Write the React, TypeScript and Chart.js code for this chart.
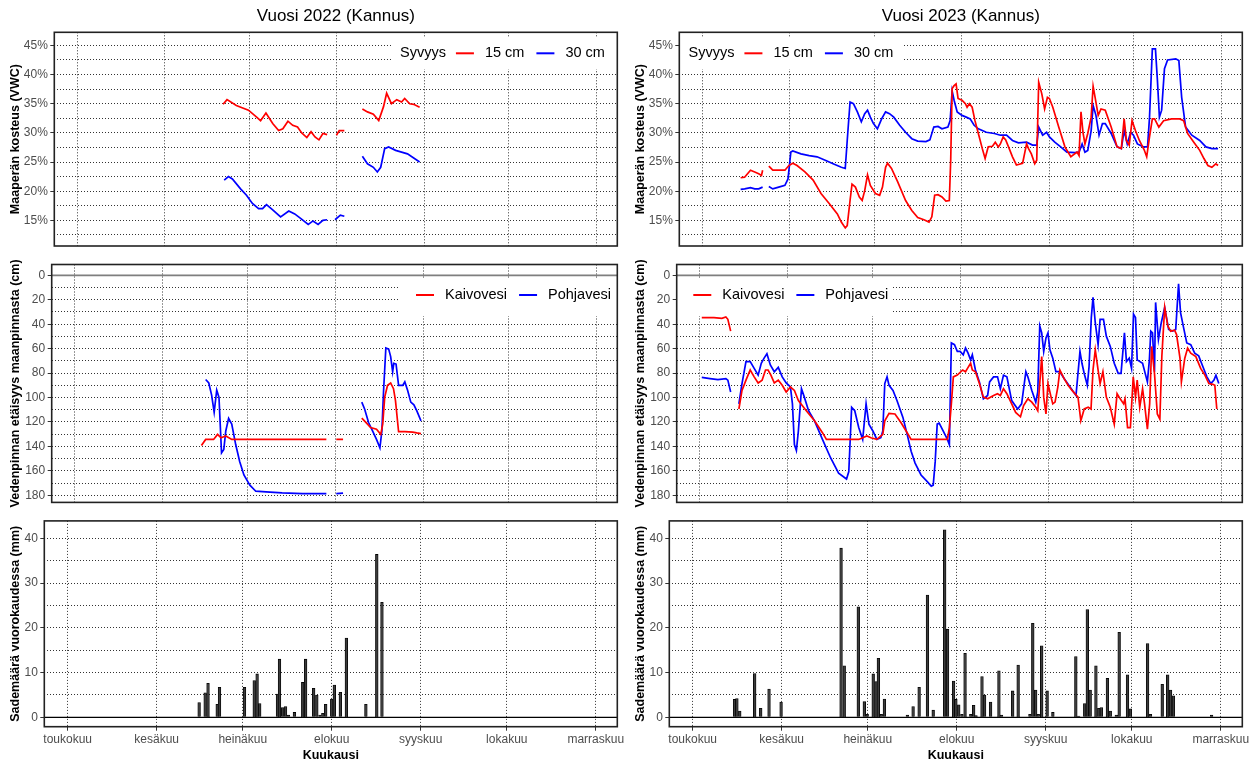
import React, { useEffect, useRef } from 'react';
import { Chart, registerables } from 'chart.js';

Chart.register(...registerables);
const FONT = "'Liberation Sans', Arial, Helvetica, sans-serif";
Chart.defaults.font.family = FONT;

// ---------- axis / tick data ----------
const monthDays = [0, 31, 61, 92, 123, 153, 184]; // days since 1 May
const monthLabels = ['toukokuu', 'kesäkuu', 'heinäkuu', 'elokuu', 'syyskuu', 'lokakuu', 'marraskuu'];
const soilMajorTicks = [15, 20, 25, 30, 35, 40, 45];
const soilMinorTicks = [12.5, 17.5, 22.5, 27.5, 32.5, 37.5, 42.5];
const depthMajorTicks = [0, 20, 40, 60, 80, 100, 120, 140, 160, 180];
const depthMinorTicks = [10, 30, 50, 70, 90, 110, 130, 150, 170];
const rainMajorTicks = [0, 10, 20, 30, 40];
const rainMinorTicks = [5, 15, 25, 35];

type Pair = [number, number | null];

// ---------- soil moisture (%), [day since 1 May, value] ----------
const soil15_2022: Pair[] = [[51.7,34.9],[53.1,35.7],[56.4,34.7],[60.7,33.9],[63.6,32.7],[65.0,32.1],[66.9,33.4],[69.3,31.6],[71.4,30.4],[72.9,30.7],[74.7,32.0],[76.4,31.3],[78.1,31.0],[79.6,30.0],[81.4,29.2],[82.9,30.2],[84.3,29.3],[85.7,28.8],[87.1,29.9],[88.6,29.7],[90.2,null],[91.9,29.6],[92.9,30.4],[94.7,30.4],[98.0,null],[101.1,34.1],[102.9,33.6],[105.0,33.2],[106.9,32.1],[108.6,34.5],[109.7,36.8],[111.4,35.0],[113.3,35.7],[115.0,35.3],[116.1,35.9],[117.9,35.0],[119.3,34.9],[121.4,34.4]];
const soil30_2022: Pair[] = [[52.1,21.9],[53.6,22.5],[55.0,22.1],[57.9,20.4],[60.0,19.3],[62.1,17.9],[64.3,17.0],[65.7,17.0],[67.1,17.7],[69.3,16.8],[72.1,15.6],[75.0,16.6],[77.1,16.1],[79.3,15.3],[81.9,14.3],[83.6,14.9],[85.4,14.3],[87.1,15.0],[88.6,15.1],[90.0,null],[91.4,15.1],[93.3,15.9],[94.7,15.7],[98.0,null],[101.1,26.0],[102.9,24.7],[105.0,24.1],[106.4,23.3],[107.6,24.1],[109.0,27.3],[110.4,27.6],[112.9,27.0],[115.0,26.7],[117.1,26.4],[119.3,25.7],[121.4,25.0]];
const soil15_2023: Pair[] = [[13.6,22.3],[15.0,22.4],[17.1,23.6],[18.6,23.3],[20.0,23.0],[21.0,22.7],[21.4,23.6],[22.5,null],[23.6,24.3],[25.0,23.6],[27.1,23.6],[29.3,23.6],[30.7,24.4],[32.1,24.8],[33.6,24.4],[36.4,23.3],[39.3,21.9],[42.1,19.6],[45.0,17.9],[47.9,16.1],[49.3,14.7],[50.7,13.7],[51.4,14.1],[52.4,18.4],[53.1,21.2],[54.3,20.7],[55.7,19.0],[56.7,18.4],[57.6,20.1],[58.6,22.8],[59.6,21.0],[61.4,19.6],[62.9,19.3],[63.9,20.7],[65.0,24.1],[65.7,24.8],[67.1,23.9],[69.3,21.6],[72.1,18.4],[74.3,16.7],[76.4,15.5],[78.6,15.1],[80.4,14.7],[81.4,15.6],[82.4,19.3],[83.6,19.4],[85.0,19.0],[86.4,18.3],[87.6,18.4],[88.1,25.3],[88.6,37.6],[89.3,38.1],[90.0,38.4],[90.7,35.9],[92.1,35.6],[93.3,35.0],[93.9,34.4],[94.7,35.0],[95.7,34.4],[96.7,32.1],[97.9,29.9],[99.3,27.3],[100.3,25.6],[101.4,27.6],[102.9,27.7],[103.9,28.4],[105.0,27.6],[105.7,28.1],[106.7,29.3],[107.6,28.8],[108.6,27.6],[110.0,25.9],[111.4,24.5],[113.6,24.8],[114.4,26.7],[115.0,28.1],[115.7,27.3],[116.7,26.4],[117.9,24.7],[118.6,25.3],[119.3,38.7],[120.4,36.7],[121.4,34.1],[122.4,36.1],[123.1,35.9],[124.3,34.4],[126.4,31.0],[128.6,27.6],[130.7,25.9],[132.9,26.7],[133.6,26.1],[134.3,33.6],[135.0,30.1],[135.7,28.1],[136.7,29.9],[137.9,32.7],[138.6,38.0],[139.3,36.1],[140.4,33.0],[141.4,34.1],[142.9,33.9],[145.0,31.0],[147.1,27.6],[148.6,27.3],[149.6,32.4],[150.4,28.7],[151.4,27.9],[152.4,32.1],[153.6,30.4],[155.0,28.7],[156.7,27.1],[157.6,25.9],[158.6,29.3],[159.6,32.4],[160.4,32.4],[161.9,31.0],[163.6,32.1],[166.4,32.4],[169.3,32.4],[170.7,32.1],[172.1,29.9],[174.3,28.4],[176.4,27.0],[177.9,25.6],[179.3,24.4],[180.7,24.1],[182.1,24.7],[182.9,24.4]];
const soil30_2023: Pair[] = [[13.6,20.3],[15.0,20.4],[17.1,20.6],[18.6,20.4],[20.0,20.4],[21.4,20.7],[22.5,null],[23.6,20.8],[25.0,20.4],[27.1,20.7],[29.3,21.0],[30.4,22.1],[31.4,26.7],[32.1,26.9],[35.0,26.4],[37.9,26.1],[40.7,25.9],[43.6,25.3],[46.4,24.7],[49.3,24.1],[50.7,23.9],[51.4,28.7],[52.4,35.3],[53.6,35.0],[55.0,33.6],[56.4,31.9],[57.6,33.3],[58.6,33.9],[59.6,32.7],[60.7,31.6],[62.1,30.7],[63.6,32.4],[65.0,33.6],[66.4,33.3],[67.9,32.7],[70.0,31.3],[72.1,30.1],[74.3,29.0],[76.4,28.6],[79.3,28.5],[80.7,28.8],[82.1,31.0],[83.6,31.1],[85.0,30.7],[87.1,31.0],[87.9,32.1],[88.6,37.2],[89.3,35.6],[90.4,33.6],[92.1,33.0],[93.6,32.7],[95.0,32.4],[96.4,31.3],[97.9,30.7],[100.7,30.1],[103.6,29.9],[105.7,29.6],[107.9,29.6],[110.0,28.7],[112.1,28.3],[115.0,28.4],[117.1,27.9],[118.6,27.9],[119.3,31.0],[120.7,29.6],[122.1,30.1],[123.1,29.3],[125.0,28.4],[127.1,27.6],[129.3,26.7],[132.1,26.6],[133.6,26.7],[134.7,28.1],[135.7,26.7],[136.7,27.0],[137.9,30.4],[138.6,34.7],[139.6,33.0],[140.7,29.6],[141.9,31.6],[142.9,31.6],[145.0,29.9],[147.1,27.6],[148.6,27.3],[149.6,30.4],[150.7,28.1],[151.9,30.1],[152.9,29.6],[154.3,28.1],[156.4,27.6],[157.9,27.6],[158.6,32.7],[159.6,44.4],[160.7,44.4],[161.4,39.0],[162.1,32.7],[162.9,33.9],[163.9,41.0],[165.0,42.5],[167.9,42.7],[169.0,42.4],[170.0,36.1],[171.4,31.0],[173.6,29.6],[176.4,28.7],[178.6,27.6],[180.7,27.3],[182.9,27.3]];

// ---------- water level depth (cm) ----------
const well_2022: Pair[] = [[44.7,139.3],[46.2,134.3],[49.0,134.3],[50.4,130.2],[51.6,133.0],[53.3,131.5],[55.4,134.3],[70.0,134.3],[88.8,134.3],[90.5,null],[92.3,134.3],[94.7,134.3],[98.0,null],[101.3,116.9],[103.0,121.0],[104.4,124.6],[106.5,126.0],[108.0,130.2],[108.7,121.8],[109.4,99.7],[110.4,90.0],[111.5,88.1],[112.5,92.8],[113.2,102.5],[114.3,128.0],[116.5,128.0],[119.3,128.3],[120.7,129.0],[122.2,129.6]];
const ground_2022: Pair[] = [[46.2,85.3],[47.3,88.1],[48.3,98.0],[49.2,112.0],[50.1,94.0],[50.9,100.0],[51.8,145.4],[52.6,142.6],[53.3,127.4],[54.3,117.1],[55.4,121.8],[56.8,138.5],[58.2,152.3],[59.7,163.4],[61.8,171.7],[63.9,176.7],[67.5,177.2],[73.2,178.0],[80.3,178.6],[88.8,178.6],[90.5,null],[92.3,178.6],[94.7,178.2],[98.0,null],[101.3,103.8],[102.3,109.4],[103.7,120.5],[105.1,127.4],[106.5,134.3],[107.7,141.2],[108.4,127.4],[109.0,94.2],[109.8,59.5],[110.8,60.4],[111.5,66.5],[112.2,78.9],[112.6,72.0],[113.4,72.6],[114.3,90.0],[115.8,90.0],[116.5,87.2],[117.5,94.2],[118.6,103.8],[119.7,106.0],[120.7,110.8],[122.2,119.1]];
const well_2023: Pair[] = [[0.7,34.6],[5.0,34.6],[7.8,35.2],[9.2,34.1],[9.9,36.0],[10.9,45.7],[12.3,null],[13.8,109.4],[14.9,94.2],[16.3,85.8],[17.8,77.5],[19.2,83.1],[20.6,88.1],[22.0,85.8],[23.2,77.5],[24.1,77.5],[25.1,81.7],[26.3,88.1],[27.7,85.8],[29.1,90.0],[30.5,95.5],[32.0,91.4],[33.4,94.2],[34.8,102.5],[37.6,110.8],[40.5,119.1],[43.3,128.8],[44.7,134.3],[49.0,134.3],[53.3,134.3],[56.1,134.3],[59.0,131.5],[60.4,132.9],[62.5,134.3],[64.6,130.2],[65.3,119.1],[66.8,113.0],[68.9,113.5],[71.0,120.5],[73.2,128.8],[74.6,134.3],[78.8,134.3],[83.1,134.3],[87.4,134.3],[88.1,124.6],[88.8,105.2],[89.5,83.1],[90.9,81.7],[92.8,77.5],[93.8,78.9],[94.5,76.2],[95.6,72.0],[96.2,77.5],[97.3,78.9],[98.7,88.6],[100.1,99.7],[101.6,101.1],[103.7,98.3],[105.1,96.9],[106.1,98.3],[107.2,92.8],[108.4,96.9],[110.1,105.2],[111.5,112.2],[113.2,115.8],[114.3,106.6],[115.8,101.1],[117.2,103.8],[118.6,108.0],[119.3,110.8],[120.0,88.6],[120.7,66.5],[121.4,99.7],[122.2,113.5],[122.9,88.6],[124.0,99.7],[124.6,105.2],[125.4,103.8],[126.4,91.4],[127.1,77.5],[128.6,84.5],[130.0,90.0],[131.4,94.2],[133.5,99.7],[134.5,119.1],[135.7,109.4],[137.1,108.0],[138.1,109.4],[138.8,77.5],[139.6,60.9],[140.6,77.5],[141.3,88.6],[142.3,78.9],[143.5,99.7],[144.9,108.0],[146.3,121.8],[147.3,96.9],[148.4,101.1],[149.6,105.2],[150.1,101.1],[151.0,124.6],[152.0,124.6],[153.0,83.1],[153.8,99.7],[154.4,85.8],[155.3,108.0],[156.3,92.8],[157.0,105.2],[158.0,126.0],[158.8,105.2],[159.5,58.2],[160.5,80.3],[161.5,113.5],[162.4,117.7],[163.1,66.5],[164.1,26.3],[165.2,41.5],[166.2,45.7],[167.6,44.9],[168.3,48.5],[169.5,67.8],[170.0,87.2],[171.2,67.8],[172.2,59.5],[173.3,63.7],[175.1,66.5],[176.8,76.2],[178.3,81.7],[179.7,88.6],[181.1,89.2],[181.8,90.0],[182.5,109.4]];
const ground_2023: Pair[] = [[0.7,83.6],[3.6,84.5],[6.4,85.3],[9.2,84.5],[9.9,85.8],[10.9,95.5],[12.3,null],[13.8,105.2],[14.9,88.6],[16.3,70.6],[17.8,70.6],[19.2,76.2],[20.6,81.7],[21.7,72.0],[22.7,67.8],[23.7,64.2],[24.9,73.4],[26.3,78.9],[27.7,75.3],[29.1,83.1],[30.5,88.1],[32.0,91.4],[32.7,105.2],[33.4,138.5],[34.1,143.4],[34.8,127.4],[35.9,92.8],[36.9,99.7],[38.4,110.8],[40.5,119.1],[43.3,134.3],[46.2,149.5],[49.0,162.0],[51.8,166.7],[52.6,160.6],[53.6,108.0],[54.7,110.8],[56.1,124.6],[57.5,134.3],[58.7,105.2],[59.7,121.8],[61.1,127.4],[62.5,134.3],[63.9,132.9],[64.6,127.4],[65.3,88.6],[66.1,83.1],[66.8,90.0],[68.2,94.2],[69.6,102.5],[71.7,116.3],[73.2,130.2],[74.6,144.0],[76.0,153.7],[78.1,163.4],[80.3,168.9],[81.7,172.5],[82.4,171.7],[83.1,152.3],[83.8,121.8],[84.5,121.0],[85.9,127.4],[87.4,134.3],[88.1,138.5],[88.8,55.4],[89.9,56.8],[90.9,62.3],[91.9,62.3],[93.0,65.1],[93.8,59.5],[94.7,63.7],[95.6,69.2],[96.2,65.1],[97.3,77.5],[98.7,87.2],[100.1,101.1],[101.6,98.3],[102.3,87.2],[103.7,83.1],[105.1,83.1],[106.1,92.8],[107.2,81.7],[108.4,83.1],[110.1,102.5],[112.2,109.4],[113.6,105.2],[115.1,78.9],[115.8,83.1],[117.2,94.2],[118.6,103.8],[119.3,95.5],[120.0,41.5],[120.7,47.1],[121.4,62.3],[122.2,51.2],[122.9,47.1],[123.6,60.9],[124.6,67.8],[125.7,78.9],[127.1,78.9],[128.6,84.5],[130.7,91.4],[132.8,98.3],[134.2,62.3],[134.9,72.0],[135.7,80.3],[136.8,90.0],[137.4,74.8],[138.2,34.6],[138.8,18.0],[139.6,38.8],[140.6,56.8],[141.3,36.0],[142.5,36.0],[143.5,49.8],[144.9,58.2],[146.3,72.0],[147.7,80.3],[148.7,80.3],[149.9,47.1],[150.6,70.6],[151.6,67.8],[152.4,76.2],[153.1,31.8],[153.8,34.6],[154.4,69.2],[156.3,72.0],[158.0,87.2],[158.7,69.2],[159.2,45.7],[159.8,47.1],[160.5,78.9],[160.9,22.2],[161.9,52.6],[162.9,38.8],[164.1,26.3],[165.5,44.3],[166.9,45.7],[168.0,44.3],[169.0,6.9],[169.7,30.5],[170.9,44.3],[171.9,55.4],[173.3,56.8],[174.7,63.7],[176.1,65.9],[177.6,74.8],[179.0,83.1],[180.4,88.6],[181.5,85.8],[182.2,81.7],[183.2,88.6]];

// ---------- daily precipitation (mm) ----------
const rain_2022: Pair[] = [[45.8,3.3],[47.9,5.5],[48.9,7.6],[52.1,2.9],[52.9,6.7],[61.6,6.7],[65.0,8.2],[66.0,9.7],[66.9,3.1],[73.1,5.2],[73.8,13.0],[74.9,2.2],[75.9,2.4],[76.9,0.5],[79.0,1.1],[81.9,7.8],[82.9,13.0],[85.7,6.5],[86.8,5.0],[87.9,0.5],[88.9,0.9],[89.9,2.9],[92.0,4.1],[92.9,7.2],[95.0,5.6],[97.1,17.7],[103.9,2.9],[107.7,36.4],[109.5,25.7]];
const rain_2023: Pair[] = [[14.6,4.0],[15.4,4.2],[16.4,1.4],[21.6,9.8],[23.7,2.0],[26.6,6.3],[30.8,3.4],[51.7,37.8],[52.8,11.5],[57.7,24.7],[59.8,3.5],[60.8,0.7],[62.9,9.7],[63.9,8.0],[64.7,13.2],[65.7,0.7],[66.8,4.1],[74.8,0.5],[76.8,2.4],[78.9,6.7],[81.8,27.3],[83.8,1.6],[87.8,41.9],[88.8,19.7],[90.9,8.1],[91.7,4.0],[92.7,2.8],[93.8,0.7],[94.9,14.3],[96.9,0.7],[97.9,2.7],[98.7,0.4],[100.8,9.1],[101.7,5.0],[103.8,3.4],[106.7,10.4],[107.6,0.5],[111.5,5.9],[113.4,11.7],[117.5,0.7],[118.5,21.0],[119.5,6.1],[120.4,0.7],[121.6,16.0],[123.5,5.9],[125.5,1.1],[133.5,13.6],[134.5,0.3],[136.6,3.1],[137.5,24.1],[138.5,6.1],[140.5,11.5],[141.5,2.0],[142.4,2.2],[144.5,8.7],[145.5,1.4],[147.6,0.5],[148.6,19.0],[151.5,9.5],[152.5,1.9],[158.5,16.5],[159.5,0.7],[163.6,7.4],[165.5,9.5],[166.5,6.1],[167.5,4.8],[180.8,0.5]];

// ---------- styling / layout ----------
const RED = '#FF0000';
const BLUE = '#0000FF';
const GRID = 'rgba(0,0,0,0.8)';
const TICK_TXT = '#4D4D4D';
const X_MIN = -8.15;
const X_MAX = 191.5;
const PANEL_RIGHT = 617.3;
const COLS = [
  { x: 0, w: 627, shift: 0, yTitlePad: 8 },
  { x: 627, w: 628, shift: 625, yTitlePad: 6 },
];
const ROWS = [
  { y: 0, h: 252, top: 32.3, bottom: 246, left: 54.3 },
  { y: 252, h: 256, top: 264.5, bottom: 502.4, left: 51.7 },
  { y: 508, h: 256, top: 520.9, bottom: 726.7, left: 44.3 },
];

const xy = (pairs: Pair[]) => pairs.map(([x, y]) => ({ x, y }));
const lineDs = (label: string, pairs: Pair[], color: string) => ({
  type: 'line', label, data: xy(pairs), borderColor: color, backgroundColor: color,
  borderWidth: 1.7, pointRadius: 0, pointHoverRadius: 0, spanGaps: false, tension: 0, fill: false,
});
const barDs = (pairs: Pair[]) => ({
  type: 'bar', label: 'Sademäärä', data: xy(pairs), backgroundColor: '#3C3C3C', borderColor: '#000',
  borderWidth: { left: 0.8, right: 0.8, top: 0.8, bottom: 0 }, borderSkipped: 'start', barThickness: 2.7,
});

const PANELS: any[] = [
  { col: 0, row: 0, title: 'Vuosi 2022 (Kannus)', datasets: [lineDs('15 cm', soil15_2022, RED), lineDs('30 cm', soil30_2022, BLUE)], legend: { box: [392, 37, PANEL_RIGHT, 69], x: 400, cy: 53.3, title: 'Syvyys' } },
  { col: 1, row: 0, title: 'Vuosi 2023 (Kannus)', datasets: [lineDs('15 cm', soil15_2023, RED), lineDs('30 cm', soil30_2023, BLUE)], legend: { box: [679.3, 37, 904, 69], x: 688.5, cy: 53.3, title: 'Syvyys' } },
  { col: 0, row: 1, datasets: [lineDs('Kaivovesi', well_2022, RED), lineDs('Pohjavesi', ground_2022, BLUE)], legend: { box: [398, 279, PANEL_RIGHT, 316], x: 416, cy: 295, title: '' } },
  { col: 1, row: 1, datasets: [lineDs('Kaivovesi', well_2023, RED), lineDs('Pohjavesi', ground_2023, BLUE)], legend: { box: [676.7, 279, 892.3, 316], x: 693.3, cy: 295, title: '' } },
  { col: 0, row: 2, datasets: [barDs(rain_2022)] },
  { col: 1, row: 2, datasets: [barDs(rain_2023)] },
];

const panelPlugin = {
  id: 'panelDeco',
  beforeDatasetsDraw(chart: any, _a: any, o: any) {
    const { ctx, chartArea: a } = chart;
    ctx.save();
    if (o.legend) {
      ctx.fillStyle = '#FFFFFF';
      ctx.fillRect(o.bx0, o.by0, o.bx1 - o.bx0, o.by1 - o.by0);
      ctx.font = `14.5px ${FONT}`;
      ctx.textBaseline = 'middle';
      ctx.textAlign = 'left';
      let x = o.lx;
      if (o.ltitle) {
        ctx.fillStyle = '#000';
        ctx.fillText(o.ltitle, x, o.ly);
        x += ctx.measureText(o.ltitle).width + 10;
      }
      chart.data.datasets.forEach((ds: any) => {
        ctx.strokeStyle = ds.borderColor;
        ctx.lineWidth = 2;
        ctx.beginPath();
        ctx.moveTo(x, o.ly);
        ctx.lineTo(x + 18, o.ly);
        ctx.stroke();
        x += 18 + 11;
        ctx.fillStyle = '#000';
        ctx.fillText(ds.label, x, o.ly);
        x += ctx.measureText(ds.label).width + 12;
      });
    }
    if (o.zeroColor) {
      const y = chart.scales.y.getPixelForValue(0);
      ctx.strokeStyle = o.zeroColor;
      ctx.lineWidth = o.zeroWidth;
      ctx.beginPath();
      ctx.moveTo(a.left, y);
      ctx.lineTo(a.right, y);
      ctx.stroke();
    }
    ctx.restore();
  },
  afterDraw(chart: any) {
    const { ctx, chartArea: a } = chart;
    ctx.save();
    ctx.strokeStyle = '#222';
    ctx.lineWidth = 1.6;
    ctx.strokeRect(a.left, a.top, a.right - a.left, a.bottom - a.top);
    ctx.restore();
  },
};

function buildConfig(def: any) {
  const col = COLS[def.col];
  const row = ROWS[def.row];
  const W = col.w;
  const H = row.h;
  const area = {
    left: row.left + col.shift - col.x,
    right: PANEL_RIGHT + col.shift - col.x,
    top: row.top - row.y,
    bottom: row.bottom - row.y,
  };
  const kind = ['soil', 'depth', 'rain'][def.row];
  const major = kind === 'soil' ? soilMajorTicks : kind === 'depth' ? depthMajorTicks : rainMajorTicks;
  const minor = kind === 'soil' ? soilMinorTicks : kind === 'depth' ? depthMinorTicks : rainMinorTicks;
  const allTicks = [...major, ...minor].sort((p, q) => p - q);
  const yRange = kind === 'soil' ? [10.6, 47.25] : kind === 'depth' ? [-8.85, 185.85] : [-2.09, 43.89];
  const yTitle = kind === 'soil' ? 'Maaperän kosteus (VWC)' : kind === 'depth' ? 'Vedenpinnan etäisyys maanpinnasta (cm)' : 'Sademäärä vuorokaudessa (mm)';
  const isRain = kind === 'rain';
  const lg = def.legend;
  const titleFont = 17;
  const titleLH = titleFont * 1.2;

  return {
    type: isRain ? 'bar' : 'line',
    data: { datasets: def.datasets },
    plugins: [panelPlugin],
    options: {
      responsive: false,
      maintainAspectRatio: false,
      animation: false,
      events: [],
      layout: { padding: { left: 0, right: W - area.right, top: def.title ? 0 : area.top, bottom: 0 } },
      plugins: {
        legend: { display: false },
        tooltip: { enabled: false },
        title: def.title
          ? { display: true, text: def.title, fullSize: false, color: '#000', font: { size: titleFont, weight: 'normal', family: FONT }, padding: { top: 5.8, bottom: area.top - titleLH - 5.8 } }
          : { display: false },
        panelDeco: {
          legend: !!lg,
          bx0: lg ? lg.box[0] - col.x : 0,
          by0: lg ? lg.box[1] - row.y : 0,
          bx1: lg ? lg.box[2] - col.x : 0,
          by1: lg ? lg.box[3] - row.y : 0,
          lx: lg ? lg.x - col.x : 0,
          ly: lg ? lg.cy - row.y : 0,
          ltitle: lg ? lg.title : '',
          zeroColor: kind === 'depth' ? '#7F7F7F' : kind === 'rain' ? '#000000' : '',
          zeroWidth: kind === 'depth' ? 1.7 : 1.4,
        },
      },
      scales: {
        x: {
          type: 'linear',
          min: X_MIN,
          max: X_MAX,
          bounds: 'data',
          offset: false,
          afterBuildTicks: (s: any) => { s.ticks = monthDays.map((v) => ({ value: v })); },
          afterFit: (s: any) => { s.height = H - area.bottom; s.paddingLeft = 0; s.paddingRight = 0; },
          ticks: {
            display: isRain,
            autoSkip: false,
            maxRotation: 0,
            minRotation: 0,
            padding: 2,
            color: TICK_TXT,
            font: { size: 12, family: FONT },
            callback: (v: any) => { const i = monthDays.indexOf(Number(v)); return i >= 0 ? monthLabels[i] : ''; },
          },
          grid: { color: GRID, lineWidth: 1, offset: false, drawTicks: isRain, tickLength: 4, tickColor: '#333', tickWidth: 1 },
          border: { display: false, dash: [1, 2] },
          title: isRain
            ? { display: true, text: 'Kuukausi', color: '#000', font: { size: 12.5, weight: 'bold', family: FONT }, padding: { top: 0, bottom: 0.5 } }
            : { display: false },
        },
        y: {
          type: 'linear',
          min: yRange[0],
          max: yRange[1],
          bounds: 'data',
          reverse: kind === 'depth',
          afterBuildTicks: (s: any) => { s.ticks = allTicks.map((v) => ({ value: v })); },
          afterFit: (s: any) => { s.width = area.left; s.paddingTop = 0; s.paddingBottom = 0; },
          ticks: {
            autoSkip: false,
            padding: 2.5,
            color: TICK_TXT,
            font: { size: 12, family: FONT },
            callback: (v: any) => (major.includes(Number(v)) ? (kind === 'soil' ? `${v}%` : `${v}`) : ''),
          },
          grid: {
            color: GRID,
            lineWidth: 1,
            drawTicks: true,
            tickLength: 4,
            tickWidth: 1,
            tickColor: (c: any) => (c.tick && major.includes(c.tick.value) ? '#333' : 'rgba(0,0,0,0)'),
          },
          border: { display: false, dash: [1, 2] },
          title: { display: true, text: yTitle, color: '#000', font: { size: 12.5, weight: 'bold', family: FONT }, padding: { top: col.yTitlePad, bottom: 0 } },
        },
      },
    },
  };
}

function Panel({ def }: { def: any }) {
  const ref = useRef<HTMLCanvasElement>(null);
  const col = COLS[def.col];
  const row = ROWS[def.row];
  useEffect(() => {
    if (!ref.current) return;
    const chart = new Chart(ref.current, buildConfig(def) as any);
    return () => chart.destroy();
  }, [def]);
  return (
    <canvas
      ref={ref}
      width={col.w}
      height={row.h}
      style={{ position: 'absolute', left: col.x, top: row.y, width: col.w, height: row.h }}
    />
  );
}

export default function App() {
  return (
    <div style={{ position: 'absolute', left: 0, top: 0, width: 1255, height: 764, background: '#FFFFFF', overflow: 'hidden' }}>
      {PANELS.map((p, i) => (
        <Panel key={i} def={p} />
      ))}
    </div>
  );
}
